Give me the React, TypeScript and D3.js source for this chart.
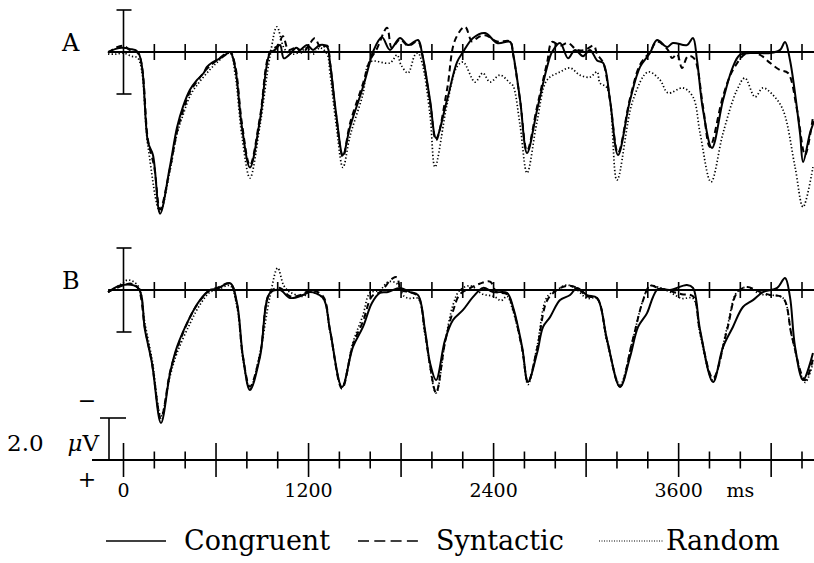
import { useEffect } from 'react';
import * as d3 from 'd3';

// [ms, µV] pairs; positive voltage is plotted downward
const aCongruent = [[-100,0],[-50,-0.15],[-10,-0.2],[40,-0.15],[94,0],[159,4.3],[191,4.9],[237,7.7],[300,5.5],[347,3.6],[386,2.6],[431,1.8],[477,1.33],[520,1.0],[541,0.71],[575,0.5],[606,0.38],[650,0.2],[691,0],[723,0.7],[768,3.57],[820,5.5],[885,3.24],[950,0.05],[982,-0.1],[1015,-0.33],[1040,0.3],[1080,0.1],[1120,-0.2],[1145,-0.1],[1190,-0.33],[1229,-0.1],[1274,-0.33],[1320,-0.25],[1339,0.5],[1380,3.0],[1423,4.9],[1469,3.57],[1553,1.67],[1598,0.48],[1617,0],[1676,-0.7],[1728,-0.1],[1793,-0.67],[1845,-0.33],[1910,-0.57],[1936,0.05],[1988,2.29],[2027,4.1],[2098,2.29],[2163,0.48],[2202,0],[2267,-0.67],[2345,-0.9],[2423,-0.43],[2507,-0.48],[2526,0.05],[2572,2.29],[2617,4.81],[2682,2.76],[2747,0.71],[2779,0],[2831,-0.43],[2883,0.3],[2928,-0.1],[2980,0.2],[3025,-0.1],[3071,0.4],[3110,0.52],[3155,2.29],[3207,4.9],[3285,2.29],[3350,0.71],[3414,0.05],[3460,-0.57],[3525,-0.24],[3563,-0.43],[3654,-0.33],[3693,-0.67],[3719,0.38],[3758,2.76],[3816,4.57],[3888,2.29],[3952,0.71],[3997,0.14],[4063,0.05],[4128,0.05],[4193,0.05],[4258,-0.1],[4290,-0.48],[4322,0.38],[4387,3.86],[4407,5.24],[4452,3.86],[4478,3.3]];
const aSyntactic = [[-100,0.05],[-50,-0.2],[0,-0.3],[40,-0.1],[94,0.05],[159,4.2],[200,5.5],[237,7.5],[300,5.6],[347,3.8],[386,2.8],[431,1.9],[477,1.4],[541,0.8],[606,0.4],[691,0],[723,0.6],[768,3.4],[820,5.4],[885,3.1],[950,0],[1000,-0.3],[1034,-0.75],[1070,-0.1],[1120,-0.2],[1160,0.05],[1200,-0.3],[1240,-0.65],[1280,-0.2],[1320,-0.3],[1339,0.5],[1380,3.1],[1423,5.0],[1469,3.4],[1553,1.5],[1598,0.4],[1640,-0.1],[1709,-1.15],[1740,-0.2],[1793,-0.6],[1845,-0.3],[1910,-0.5],[1936,0.1],[1988,2.4],[2027,4.2],[2098,1.8],[2150,-0.57],[2215,-1.2],[2260,-0.5],[2300,-0.7],[2345,-0.8],[2423,-0.5],[2507,-0.5],[2526,0.1],[2572,2.3],[2617,4.7],[2682,2.6],[2747,0.5],[2779,-0.48],[2830,-0.3],[2883,-0.43],[2940,-0.1],[2993,-0.1],[3050,-0.3],[3071,0.1],[3110,0.5],[3155,2.3],[3207,4.8],[3285,2.2],[3350,0.6],[3414,0],[3460,-0.5],[3530,-0.1],[3557,0.29],[3590,0.1],[3622,0.76],[3660,0.2],[3700,0.3],[3758,2.6],[3803,4.52],[3888,2.1],[3952,0.86],[4043,0.05],[4128,0.14],[4193,0.52],[4258,0.86],[4309,1.0],[4368,2.76],[4420,4.9],[4471,3.1]];
const aRandom = [[-100,0.1],[-50,0.1],[0,0.05],[50,0.2],[94,0.3],[159,4.5],[237,7.6],[300,5.7],[347,3.9],[386,3.0],[431,2.1],[477,1.57],[541,1.0],[606,0.5],[691,0.05],[723,1.0],[768,4.0],[820,6.0],[885,3.5],[950,0.2],[995,-1.2],[1040,-0.2],[1080,0.1],[1145,0.0],[1190,-0.2],[1229,0.1],[1274,-0.2],[1320,0.1],[1339,1.0],[1380,3.5],[1423,5.5],[1469,4.0],[1553,2.0],[1598,0.48],[1728,0.52],[1774,0.14],[1800,0.62],[1845,1.0],[1890,0.14],[1910,0.05],[1936,0.5],[1988,3.0],[2020,5.48],[2098,2.5],[2163,0.7],[2202,0.48],[2280,1.43],[2330,1.0],[2377,1.43],[2442,1.1],[2507,1.48],[2526,1.6],[2572,3.5],[2617,5.76],[2682,3.3],[2747,1.33],[2831,0.95],[2896,0.76],[2960,1.1],[3025,1.2],[3071,0.95],[3090,1.48],[3136,1.71],[3200,6.1],[3304,2.29],[3402,0.95],[3479,1.33],[3531,1.95],[3628,1.71],[3693,2.14],[3739,3.86],[3810,6.19],[3888,3.86],[3978,1.81],[4030,1.24],[4095,2.14],[4147,1.71],[4212,2.05],[4277,2.76],[4355,5.48],[4407,7.38],[4471,5.48]];

const bCongruent = [[-100,0.1],[-10,-0.24],[94,-0.1],[139,1.9],[185,3.5],[243,6.33],[302,3.95],[347,2.71],[431,1.29],[496,0.48],[561,0],[606,-0.05],[691,-0.33],[736,0.62],[775,3.19],[820,4.76],[885,3.19],[950,0.14],[1015,0],[1080,0.38],[1164,0.24],[1209,0.1],[1294,0.38],[1339,1.9],[1417,4.62],[1488,2.71],[1553,1.76],[1611,0.62],[1663,0.14],[1715,0.1],[1793,-0.1],[1858,0.1],[1910,0.24],[1955,1.9],[1988,3.48],[2027,4.29],[2085,2.38],[2137,1.43],[2202,0.95],[2267,0.33],[2332,-0.1],[2397,0.1],[2487,0.14],[2526,0.81],[2585,2.71],[2623,4.38],[2682,3.0],[2721,1.76],[2766,1.29],[2831,0.48],[2896,0.24],[2941,-0.1],[3006,0.24],[3071,0.38],[3136,2.38],[3220,4.62],[3285,3.19],[3337,1.76],[3395,1.1],[3434,0.33],[3467,-0.05],[3544,0],[3654,-0.24],[3693,-0.1],[3739,1.9],[3823,4.38],[3888,2.71],[3952,1.76],[4017,0.81],[4082,0.48],[4147,0.1],[4239,-0.1],[4290,-0.57],[4322,0.33],[4355,2.71],[4407,4.29],[4471,3.0]];
const bSyntactic = [[-100,0.1],[-10,-0.2],[50,-0.3],[94,-0.1],[139,1.8],[185,3.5],[243,6.1],[302,3.9],[347,2.8],[431,1.3],[496,0.5],[561,0],[606,-0.1],[691,-0.3],[736,0.7],[775,3.2],[820,4.6],[885,3.1],[950,0.1],[1015,-0.1],[1080,0.3],[1164,0.2],[1209,0],[1294,0.3],[1339,1.9],[1417,4.7],[1488,2.6],[1553,1.5],[1611,0.3],[1663,0.1],[1748,-0.57],[1774,-0.6],[1800,0],[1858,0.1],[1910,0.3],[1955,2.0],[1988,3.6],[2027,4.9],[2085,2.5],[2137,1.0],[2182,0.2],[2250,-0.1],[2310,-0.3],[2377,-0.4],[2420,0.1],[2487,0.2],[2526,0.9],[2585,2.8],[2623,4.4],[2682,2.8],[2747,0.5],[2811,0],[2876,-0.2],[2941,-0.1],[3006,0.3],[3071,0.4],[3136,2.4],[3220,4.6],[3298,2.5],[3369,0.5],[3414,-0.2],[3467,-0.1],[3544,0.05],[3620,0.2],[3693,0.3],[3739,2.0],[3823,4.2],[3914,1.9],[3978,0.14],[4043,-0.14],[4130,0.1],[4193,0.24],[4277,0.38],[4335,2.24],[4420,4.3],[4471,3.3]];
const bRandom = [[-100,0.1],[-10,-0.3],[29,-0.48],[94,-0.2],[139,1.6],[185,3.3],[243,6.0],[302,4.1],[347,3.0],[431,1.6],[496,0.7],[561,0.1],[606,0],[691,-0.2],[736,0.8],[775,3.3],[820,4.7],[885,3.0],[950,0.3],[1000,-1.05],[1040,-0.2],[1080,0.1],[1164,0.3],[1209,0.1],[1294,0.4],[1339,2.0],[1417,4.6],[1488,2.5],[1553,1.2],[1598,0.14],[1663,0],[1720,-0.4],[1774,-0.3],[1820,0.3],[1858,0.4],[1910,0.4],[1955,2.1],[2027,4.9],[2085,2.5],[2137,0.71],[2182,0],[2250,-0.2],[2330,0.2],[2400,0.3],[2450,0.5],[2487,0.3],[2526,1.0],[2585,2.8],[2623,4.5],[2682,2.7],[2747,0.33],[2811,0],[2876,-0.24],[2941,0],[3006,0.4],[3071,0.4],[3136,2.5],[3220,4.5],[3298,2.5],[3369,0.48],[3414,-0.2],[3480,-0.1],[3544,0.1],[3620,0.4],[3693,0.4],[3739,2.1],[3823,4.3],[3914,1.8],[3978,0.1],[4043,-0.14],[4130,0.2],[4193,0.24],[4277,0.38],[4335,2.24],[4420,4.4],[4471,3.5]];

const tickLabels = [0, 1200, 2400, 3600];
const conditions = ['Congruent', 'Syntactic', 'Random'];

const W = 814, H = 563;
const FONT = '"DejaVu Serif", serif';
const x = d3.scaleLinear().domain([0, 4400]).range([123.5, 802]);
const PX_PER_UV = 21;

const styles = {
  Congruent: { width: 2, dash: null },
  Syntactic: { width: 2, dash: '6,4' },
  Random: { width: 1.7, dash: '1.3,2.2' },
};

function Panel({ label, base, series }) {
  const y = d3.scaleLinear().domain([0, 1]).range([base, base + PX_PER_UV]);
  const line = d3.line().x(d => x(d[0])).y(d => y(d[1])).curve(d3.curveCatmullRom.alpha(0.5));
  const ticks = d3.range(200, 4401, 200);
  return (
    <g>
      <text x={62} y={base - 1} fontFamily={FONT} fontSize={24}>{label}</text>
      <line x1={x(-100)} x2={W} y1={base} y2={base} stroke="#000" strokeWidth={2} />
      {ticks.map(t => (
        <line key={t} x1={x(t)} x2={x(t)} y1={base - 8} y2={base + 8} stroke="#000" strokeWidth={1.6} />
      ))}
      <line x1={x(0)} x2={x(0)} y1={y(-2)} y2={y(2)} stroke="#000" strokeWidth={1.6} />
      <line x1={x(0) - 7} x2={x(0) + 8} y1={y(-2)} y2={y(-2)} stroke="#000" strokeWidth={1.6} />
      <line x1={x(0) - 7} x2={x(0) + 8} y1={y(2)} y2={y(2)} stroke="#000" strokeWidth={1.6} />
      {series.map((s, i) => (
        <path key={i} d={line(s) || ''} fill="none" stroke="#000"
          strokeWidth={styles[conditions[i]].width}
          strokeDasharray={styles[conditions[i]].dash || undefined} />
      ))}
    </g>
  );
}

export default function App() {
  useEffect(() => { document.body.style.margin = '0'; }, []);
  const axisY = 460;
  const yBar = d3.scaleLinear().domain([0, 1]).range([axisY, axisY - PX_PER_UV]);
  const ticks = d3.range(0, 4401, 200);
  const legend = [
    { name: 'Congruent', x1: 106, x2: 166, tx: 184, w: 1.6, dash: null },
    { name: 'Syntactic', x1: 358, x2: 418, tx: 436, w: 1.6, dash: '11,5.3' },
    { name: 'Random', x1: 599, x2: 664, tx: 666, w: 1.2, dash: '1,1.5' },
  ];
  return (
    <svg width={W} height={H} style={{ display: 'block', background: '#fff' }}>
      <Panel label="A" base={52} series={[aCongruent, aSyntactic, aRandom]} />
      <Panel label="B" base={290} series={[bCongruent, bSyntactic, bRandom]} />

      <line x1={92} x2={W} y1={axisY} y2={axisY} stroke="#000" strokeWidth={2} />
      {ticks.map(t => {
        const major = t % 600 === 0;
        return (
          <line key={t} x1={x(t)} x2={x(t)} y1={axisY - (major ? 17 : 8.5)} y2={axisY + (major ? 17 : 8.5)}
            stroke="#000" strokeWidth={1.6} />
        );
      })}
      <line x1={109} x2={109} y1={yBar(0)} y2={yBar(2)} stroke="#000" strokeWidth={1.6} />
      <line x1={100} x2={126} y1={yBar(2)} y2={yBar(2)} stroke="#000" strokeWidth={1.6} />
      <text x={87} y={408} textAnchor="middle" fontFamily={FONT} fontSize={22}>−</text>
      <text x={87} y={487} textAnchor="middle" fontFamily={FONT} fontSize={22}>+</text>
      <text x={7} y={451} fontFamily={FONT} fontSize={23}>2.0</text>
      <text x={99} y={451} textAnchor="end" fontFamily={FONT} fontSize={23}>
        <tspan fontStyle="italic">μ</tspan>V
      </text>
      {tickLabels.map(t => (
        <text key={t} x={x(t)} y={497} textAnchor="middle" fontFamily={FONT} fontSize={19}>{t}</text>
      ))}
      <text x={x(4000)} y={497} textAnchor="middle" fontFamily={FONT} fontSize={19}>ms</text>

      {legend.map(l => (
        <g key={l.name}>
          <line x1={l.x1} x2={l.x2} y1={541} y2={541} stroke="#000" strokeWidth={l.w}
            strokeDasharray={l.dash || undefined} />
          <text x={l.tx} y={550} fontFamily={FONT} fontSize={27}>{l.name}</text>
        </g>
      ))}
    </svg>
  );
}
